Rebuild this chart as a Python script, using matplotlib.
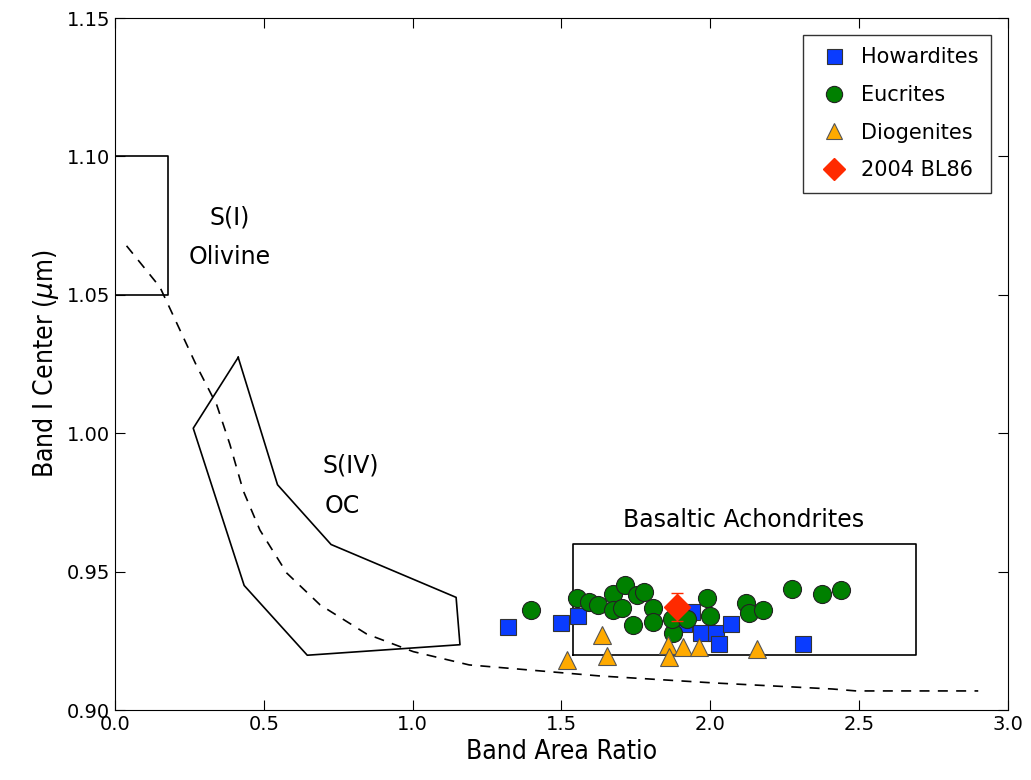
import numpy as np
import matplotlib.pyplot as plt

# meteorite data: band area ratio (x) and band I center (y, micron)
how_x = [1.32, 1.50, 1.555, 1.91, 1.94, 1.97, 2.02, 2.03, 2.07, 2.31]
how_y = [0.930, 0.9314, 0.934, 0.931, 0.9354, 0.928, 0.928, 0.924, 0.931, 0.924]

euc_x = [1.397, 1.552, 1.592, 1.623, 1.673, 1.713, 1.673, 1.703, 1.753, 1.777,
         1.74, 1.807, 1.807, 1.874, 1.87, 1.92, 1.99, 1.998, 2.12, 2.13,
         2.177, 2.274, 2.375, 2.439]
euc_y = [0.936, 0.9405, 0.939, 0.938, 0.942, 0.945, 0.936, 0.937, 0.9415, 0.9426,
         0.9307, 0.937, 0.9318, 0.928, 0.933, 0.933, 0.9405, 0.934, 0.9386, 0.935,
         0.936, 0.9437, 0.942, 0.9433]

dio_x = [1.52, 1.636, 1.652, 1.857, 1.86, 1.907, 1.962, 2.157]
dio_y = [0.918, 0.927, 0.9195, 0.9235, 0.919, 0.9228, 0.9228, 0.922]

bl86_x = [1.888]
bl86_y = [0.9372]
bl86_err = [0.005]

# S(I) olivine box and basaltic achondrite box: (x0, x1, y0, y1)
si_box = (0.0, 0.178, 1.05, 1.10)
ba_box = (1.538, 2.69, 0.92, 0.96)

# S(IV) ordinary chondrite region outline
siv_x = [0.414, 0.263, 0.434, 0.646, 1.159, 1.146, 0.726, 0.546, 0.414]
siv_y = [1.0274, 1.0018, 0.945, 0.9198, 0.9236, 0.9407, 0.9598, 0.9814, 1.0274]

# olivine-orthopyroxene mixing line
mix_x = [0.039, 0.151, 0.185, 0.274, 0.342, 0.386, 0.431, 0.487, 0.577, 0.689,
         0.845, 1.002, 1.19, 1.63, 2.01, 2.41, 2.49, 2.90]
mix_y = [1.0677, 1.0528, 1.045, 1.0244, 1.0102, 0.996, 0.9792, 0.965, 0.9495, 0.938,
         0.9275, 0.9211, 0.9163, 0.9123, 0.9098, 0.9076, 0.9069, 0.9069]

fig = plt.figure(figsize=(10.31, 7.80), dpi=100)
ax = fig.add_axes([0.1115, 0.0897, 0.8662, 0.8872])

ax.plot(mix_x, mix_y, 'k--', lw=1.2, dashes=(6, 5))
ax.plot([si_box[0], si_box[1], si_box[1], si_box[0]],
        [si_box[3], si_box[3], si_box[2], si_box[2]], 'k-', lw=1.2)
ax.plot([ba_box[0], ba_box[1], ba_box[1], ba_box[0], ba_box[0]],
        [ba_box[2], ba_box[2], ba_box[3], ba_box[3], ba_box[2]], 'k-', lw=1.2)
ax.plot(siv_x, siv_y, 'k-', lw=1.2)

ax.plot(how_x, how_y, 's', color='#0a3cff', mec='#333333', mew=0.8, ms=12,
        label='Howardites')
ax.plot(euc_x, euc_y, 'o', color='#008000', mec='#222222', mew=0.8, ms=13,
        label='Eucrites')
ax.plot(dio_x, dio_y, '^', color='#ffaa00', mec='#555555', mew=0.8, ms=13,
        label='Diogenites')
ax.errorbar(bl86_x, bl86_y, yerr=bl86_err, fmt='none', ecolor='#ff2a00',
            elinewidth=1, capsize=4)
ax.plot(bl86_x, bl86_y, 'D', color='#ff2a00', mec='#ff2a00', ms=13,
        label='2004 BL86')

ax.text(0.386, 1.078, 'S(I)', fontsize=17, ha='center', va='center')
ax.text(0.386, 1.0637, 'Olivine', fontsize=17, ha='center', va='center')
ax.text(0.793, 0.9885, 'S(IV)', fontsize=17, ha='center', va='center')
ax.text(0.762, 0.9737, 'OC', fontsize=17, ha='center', va='center')
ax.text(2.11, 0.9686, 'Basaltic Achondrites', fontsize=17, ha='center', va='center')

ax.set_xlim(0, 3.0)
ax.set_ylim(0.90, 1.15)
ax.set_xticks(np.arange(0, 3.01, 0.5))
ax.set_yticks(np.arange(0.90, 1.151, 0.05))
ax.tick_params(labelsize=14, direction='in', length=7, top=True, right=True)
ax.set_xlabel('Band Area Ratio', fontsize=19, fontstretch='condensed')
ax.set_ylabel(r'Band I Center ($\mu$m)', fontsize=19, fontstretch='condensed')

leg = ax.legend(loc='upper right', numpoints=1, fontsize=15, fancybox=False,
                borderpad=0.6, labelspacing=0.85, handletextpad=0.4,
                handlelength=1.8, markerscale=0.9, borderaxespad=0.8)
leg.get_frame().set_edgecolor('black')

fig.savefig('out.png')
